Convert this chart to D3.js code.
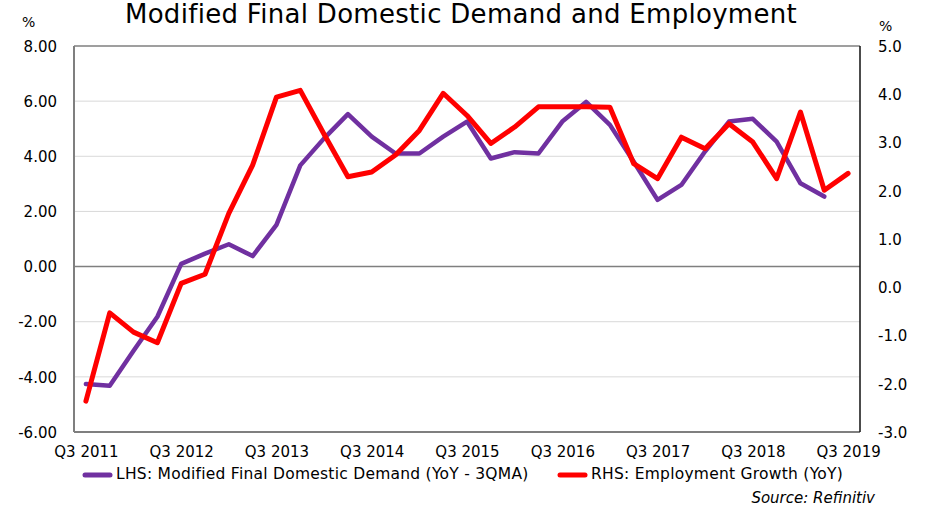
<!DOCTYPE html>
<html>
<head>
<meta charset="utf-8">
<script src="https://cdn.jsdelivr.net/npm/d3@7"></script>
<style>
  body { margin: 0; background: #fff; }
  svg { font-family: "DejaVu Sans", sans-serif; }
</style>
</head>
<body>
<div id="chart"></div>
<script>
// quarters Q3 2011 .. Q3 2019
const quarters = [];
for (let y = 2011; y <= 2019; y++) {
  [1, 2, 3, 4].forEach(q => {
    if ((y === 2011 && q < 3) || (y === 2019 && q > 3)) return;
    quarters.push(`Q${q} ${y}`);
  });
}

// LHS: modified final domestic demand (yoy, 3qma)
const demand = [-4.26, -4.32, -3.05, -1.82, 0.1, 0.47, 0.81, 0.38, 1.51, 3.67,
  4.65, 5.53, 4.71, 4.1, 4.1, 4.71, 5.26, 3.92, 4.15, 4.1,
  5.26, 5.97, 5.14, 3.8, 2.42, 2.96, 4.18, 5.26, 5.36, 4.53,
  3.02, 2.54];

// RHS: employment growth (yoy)
const employment = [-2.36, -0.53, -0.93, -1.15, 0.08, 0.27, 1.53, 2.53, 3.94, 4.08,
  3.17, 2.29, 2.39, 2.74, 3.25, 4.02, 3.56, 2.98, 3.32, 3.74,
  3.74, 3.74, 3.73, 2.56, 2.25, 3.11, 2.87, 3.39, 3.01, 2.25,
  3.63, 2.01, 2.36];

const leftTicks = [-6, -4, -2, 0, 2, 4, 6, 8];
const rightTicks = [-3, -2, -1, 0, 1, 2, 3, 4, 5];

const width = 928, height = 510;
const margin = {top: 46, right: 68, bottom: 78, left: 74};

const svg = d3.select("#chart").append("svg")
  .attr("width", width)
  .attr("height", height);

const x = d3.scalePoint().domain(quarters)
  .range([margin.left, width - margin.right]).padding(0.5);
const yL = d3.scaleLinear().domain([-6, 8]).range([height - margin.bottom, margin.top]);
const yR = d3.scaleLinear().domain([-3, 5]).range([height - margin.bottom, margin.top]);

// grid
svg.append("g")
  .selectAll("line")
  .data(leftTicks.filter(t => t !== 0 && t !== -6 && t !== 8))
  .join("line")
  .attr("x1", margin.left).attr("x2", width - margin.right)
  .attr("y1", d => yL(d)).attr("y2", d => yL(d))
  .attr("stroke", "#d9d9d9").attr("stroke-width", 1);

// zero line
svg.append("line")
  .attr("x1", margin.left).attr("x2", width - margin.right)
  .attr("y1", yL(0)).attr("y2", yL(0))
  .attr("stroke", "#7f7f7f").attr("stroke-width", 1.5);

// frame
svg.append("line")
  .attr("x1", margin.left).attr("x2", width - margin.right)
  .attr("y1", margin.top).attr("y2", margin.top)
  .attr("stroke", "#7f7f7f").attr("stroke-width", 1.5);
svg.append("line")
  .attr("x1", margin.left).attr("x2", width - margin.right)
  .attr("y1", height - margin.bottom).attr("y2", height - margin.bottom)
  .attr("stroke", "#7f7f7f").attr("stroke-width", 2);
svg.append("line")
  .attr("x1", margin.left).attr("x2", margin.left)
  .attr("y1", margin.top).attr("y2", height - margin.bottom)
  .attr("stroke", "#7f7f7f").attr("stroke-width", 2);
svg.append("line")
  .attr("x1", width - margin.right).attr("x2", width - margin.right)
  .attr("y1", margin.top).attr("y2", height - margin.bottom)
  .attr("stroke", "#111").attr("stroke-width", 1.5);

// axes labels (plain hyphen for negatives, like the original)
const left = svg.append("g")
  .attr("transform", `translate(${margin.left - 17},0)`)
  .call(d3.axisLeft(yL).tickValues(leftTicks).tickFormat(d => d.toFixed(2)).tickSize(0).tickPadding(0));
left.select(".domain").remove();

const right = svg.append("g")
  .attr("transform", `translate(${width - margin.right + 18},0)`)
  .call(d3.axisRight(yR).tickValues(rightTicks).tickFormat(d => d.toFixed(1)).tickSize(0).tickPadding(0));
right.select(".domain").remove();

const bottom = svg.append("g")
  .attr("transform", `translate(0,${height - margin.bottom + 10})`)
  .call(d3.axisBottom(x).tickValues(quarters.filter(q => q.startsWith("Q3"))).tickSize(0).tickPadding(4));
bottom.select(".domain").remove();

svg.selectAll(".tick text")
  .attr("font-family", "DejaVu Sans, sans-serif")
  .attr("font-size", 15)
  .attr("fill", "#000");
left.selectAll(".tick text").attr("dy", "0.35em");
right.selectAll(".tick text").attr("dy", "0.35em");

svg.append("text").attr("x", 22).attr("y", 27).attr("font-size", 14).text("%");
svg.append("text").attr("x", 879).attr("y", 31).attr("font-size", 14).text("%");

// lines
const lineL = d3.line().x((d, i) => x(quarters[i])).y(d => yL(d));
const lineR = d3.line().x((d, i) => x(quarters[i])).y(d => yR(d));

svg.append("path")
  .datum(demand)
  .attr("d", lineL)
  .attr("fill", "none")
  .attr("stroke", "#7030a0")
  .attr("stroke-width", 4.5)
  .attr("stroke-linejoin", "round")
  .attr("stroke-linecap", "round");

svg.append("path")
  .datum(employment)
  .attr("d", lineR)
  .attr("fill", "none")
  .attr("stroke", "#ff0000")
  .attr("stroke-width", 5)
  .attr("stroke-linejoin", "round")
  .attr("stroke-linecap", "round");

// title
svg.append("text")
  .attr("x", 461).attr("y", 23)
  .attr("text-anchor", "middle")
  .attr("font-size", 26)
  .attr("letter-spacing", 0.3)
  .text("Modified Final Domestic Demand and Employment");

// legend
const legendItems = [
  {label: "LHS: Modified Final Domestic Demand (YoY - 3QMA)", color: "#7030a0", x: 83},
  {label: "RHS: Employment Growth (YoY)", color: "#ff0000", x: 558}
];
const lg = svg.append("g");
legendItems.forEach(it => {
  lg.append("line")
    .attr("x1", it.x + 2).attr("x2", it.x + 27)
    .attr("y1", 475).attr("y2", 475)
    .attr("stroke", it.color).attr("stroke-width", 5)
    .attr("stroke-linecap", "round");
  lg.append("text")
    .attr("x", it.x + 33).attr("y", 479)
    .attr("font-size", 15.5)
    .attr("letter-spacing", 0.25)
    .text(it.label);
});

svg.append("text")
  .attr("x", 875).attr("y", 503)
  .attr("text-anchor", "end")
  .attr("font-size", 15)
  .attr("font-style", "italic")
  .text("Source: Refinitiv");
</script>
</body>
</html>
